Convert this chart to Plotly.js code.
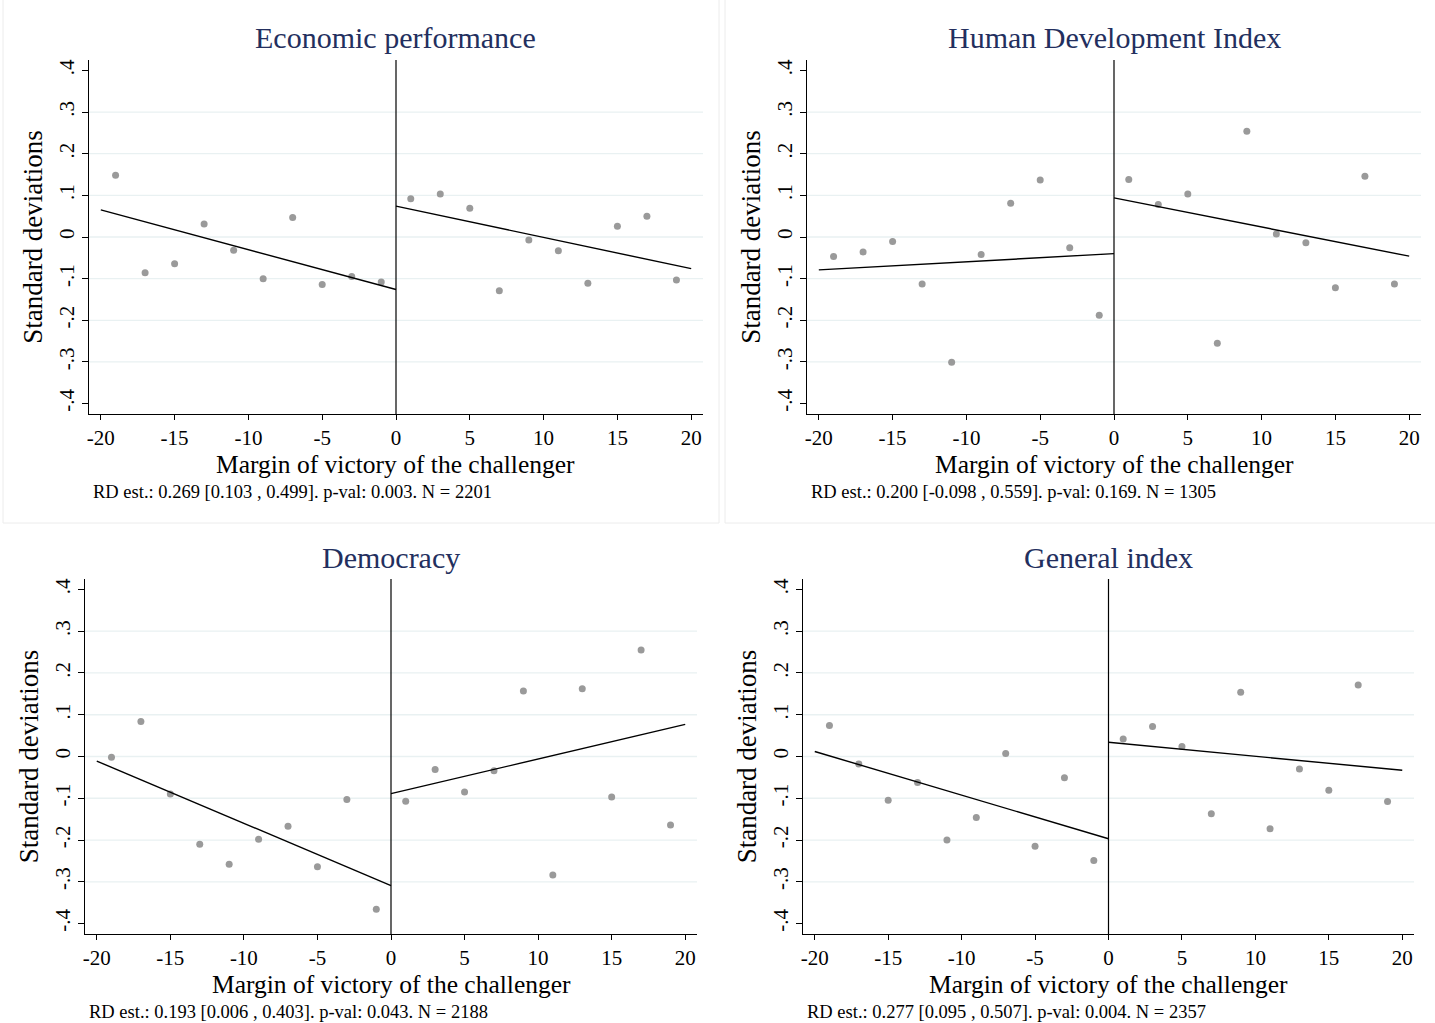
<!DOCTYPE html>
<html>
<head>
<meta charset="utf-8">
<script src="https://cdn.plot.ly/plotly-3.0.1.min.js"></script>
<style>
  html, body { margin: 0; padding: 0; background: #ffffff; }
  #chart { width: 1435px; height: 1023px; }
</style>
</head>
<body>
<div id="chart"></div>
<script>
// Bin centres of the running variable (margin of victory, percentage points)
const binsLeft = [-19, -17, -15, -13, -11, -9, -7, -5, -3, -1];
const binsRight = [1, 3, 5, 7, 9, 11, 13, 15, 17, 19];

// Binned means, in standard deviations
const econLeft = [0.148, -0.086, -0.064, 0.031, -0.032, -0.100, 0.047, -0.114, -0.095, -0.108];
const econRight = [0.092, 0.103, 0.069, -0.129, -0.007, -0.033, -0.111, 0.026, 0.050, -0.103];

const hdiLeft = [-0.047, -0.036, -0.011, -0.113, -0.301, -0.042, 0.081, 0.137, -0.026, -0.188];
const hdiRight = [0.138, 0.078, 0.103, -0.255, 0.254, 0.007, -0.014, -0.122, 0.146, -0.113];

const demoLeft = [-0.002, 0.084, -0.090, -0.210, -0.258, -0.198, -0.167, -0.264, -0.103, -0.366];
const demoRight = [-0.107, -0.031, -0.085, -0.034, 0.157, -0.284, 0.162, -0.097, 0.255, -0.164];

const genLeft = [0.074, -0.018, -0.105, -0.062, -0.200, -0.146, 0.007, -0.215, -0.051, -0.249];
const genRight = [0.042, 0.072, 0.024, -0.137, 0.154, -0.173, -0.030, -0.081, 0.171, -0.108];

// Linear fits on each side of the cutoff: values at the segment ends
const fitXLeft = [-20, 0];
const fitXRight = [0, 20];
const econFitLeft = [0.065, -0.126];
const econFitRight = [0.074, -0.076];
const hdiFitLeft = [-0.079, -0.040];
const hdiFitRight = [0.094, -0.046];
const demoFitLeft = [-0.011, -0.309];
const demoFitRight = [-0.089, 0.077];
const genFitLeft = [0.012, -0.197];
const genFitRight = [0.034, -0.033];

// Panel titles and estimate notes
const panelTitles = ["Economic performance", "Human Development Index", "Democracy", "General index"];
const panelNotes = [
  "RD est.: 0.269 [0.103 , 0.499]. p-val: 0.003. N = 2201",
  "RD est.: 0.200 [-0.098 , 0.559]. p-val: 0.169. N = 1305",
  "RD est.: 0.193 [0.006 , 0.403]. p-val: 0.043. N = 2188",
  "RD est.: 0.277 [0.095 , 0.507]. p-val: 0.004. N = 2357"
];

// Axis ticks
const xTickVals = [-20, -15, -10, -5, 0, 5, 10, 15, 20];
const xTickText = ["-20", "-15", "-10", "-5", "0", "5", "10", "15", "20"];
const yTickVals = [-0.4, -0.3, -0.2, -0.1, 0, 0.1, 0.2, 0.3, 0.4];
const yTickText = ["-.4", "-.3", "-.2", "-.1", "0", ".1", ".2", ".3", ".4"];
const gridVals = [-0.3, -0.2, -0.1, 0, 0.1, 0.2, 0.3];

const xLabel = "Margin of victory of the challenger";
const yLabel = "Standard deviations";

const panels = [
  { left: econLeft, right: econRight, fitL: econFitLeft, fitR: econFitRight },
  { left: hdiLeft, right: hdiRight, fitL: hdiFitLeft, fitR: hdiFitRight },
  { left: demoLeft, right: demoRight, fitL: demoFitLeft, fitR: demoFitRight },
  { left: genLeft, right: genRight, fitL: genFitLeft, fitR: genFitRight }
];

// Page geometry (pixels) for each panel's plotting region
const W = 1435, H = 1023;
const boxes = [
  { x0: 89, x1: 703, y0: 60, y1: 414 },
  { x0: 807, x1: 1421, y0: 60, y1: 414 },
  { x0: 85, x1: 697, y0: 579, y1: 934 },
  { x0: 803, x1: 1414, y0: 579, y1: 934 }
];

const FONT = "Liberation Serif, 'DejaVu Serif', serif";
const markerColor = "#9a9a9a";
const gridColor = "#e9f1f2";
const titleColor = "#232f5e";

const data = [];
const layout = {
  width: W, height: H,
  margin: { l: 0, r: 0, t: 0, b: 0 },
  paper_bgcolor: "#ffffff",
  plot_bgcolor: "#ffffff",
  showlegend: false,
  font: { family: FONT, color: "#000000" },
  shapes: [],
  annotations: []
};

panels.forEach((p, i) => {
  const n = i + 1;
  const xa = n === 1 ? "x" : "x" + n;
  const ya = n === 1 ? "y" : "y" + n;
  const b = boxes[i];

  data.push({
    x: binsLeft.concat(binsRight), y: p.left.concat(p.right),
    xaxis: xa, yaxis: ya, type: "scatter", mode: "markers",
    marker: { color: markerColor, size: 7 }, hoverinfo: "skip"
  });
  data.push({
    x: fitXLeft, y: p.fitL, xaxis: xa, yaxis: ya, type: "scatter", mode: "lines",
    line: { color: "#000000", width: 1.4 }, hoverinfo: "skip"
  });
  data.push({
    x: fitXRight, y: p.fitR, xaxis: xa, yaxis: ya, type: "scatter", mode: "lines",
    line: { color: "#000000", width: 1.4 }, hoverinfo: "skip"
  });

  layout["xaxis" + (n === 1 ? "" : n)] = {
    domain: [b.x0 / W, b.x1 / W],
    anchor: ya,
    range: [-20.8, 20.8],
    tickmode: "array", tickvals: xTickVals, ticktext: xTickText,
    ticks: "outside", ticklen: 5, tickwidth: 1, tickcolor: "#000000",
    showline: true, linecolor: "#000000", linewidth: 1,
    showgrid: false, zeroline: false,
    tickfont: { family: FONT, size: 21, color: "#000000" },
    fixedrange: true
  };
  layout["yaxis" + (n === 1 ? "" : n)] = {
    domain: [1 - b.y1 / H, 1 - b.y0 / H],
    anchor: xa,
    range: [-0.425, 0.425],
    tickmode: "array", tickvals: yTickVals, ticktext: yTickText,
    tickangle: -90,
    ticks: "outside", ticklen: 6, tickwidth: 1, tickcolor: "#000000",
    showline: true, linecolor: "#000000", linewidth: 1,
    showgrid: false, zeroline: false,
    tickfont: { family: FONT, size: 21, color: "#000000" },
    title: { text: yLabel, font: { family: FONT, size: 27, color: "#000000" }, standoff: 4 },
    fixedrange: true
  };

  // light horizontal grid lines
  gridVals.forEach(g => {
    layout.shapes.push({
      type: "line", xref: xa + " domain", yref: ya,
      x0: 0, x1: 1, y0: g, y1: g,
      line: { color: gridColor, width: 1.3 }, layer: "below"
    });
  });
  // cutoff line at zero margin
  layout.shapes.push({
    type: "line", xref: xa, yref: ya + " domain",
    x0: 0, x1: 0, y0: 0, y1: 1,
    line: { color: "#000000", width: 1.2 }
  });

  // panel title
  layout.annotations.push({
    text: panelTitles[i], xref: "paper", yref: "paper",
    x: ((b.x0 + b.x1) / 2) / W, y: 1 - (b.y0 - 22) / H,
    xanchor: "center", yanchor: "middle", showarrow: false,
    font: { family: FONT, size: 30, color: titleColor }
  });
  // x-axis title
  layout.annotations.push({
    text: xLabel, xref: "paper", yref: "paper",
    x: ((b.x0 + b.x1) / 2) / W, y: 1 - (b.y1 + 50) / H,
    xanchor: "center", yanchor: "middle", showarrow: false,
    font: { family: FONT, size: 25.5, color: "#000000" }
  });
  // estimate note
  layout.annotations.push({
    text: panelNotes[i], xref: "paper", yref: "paper",
    x: (b.x0 + 2) / W, y: 1 - (b.y1 + 78) / H,
    xanchor: "left", yanchor: "middle", showarrow: false,
    font: { family: FONT, size: 18.5, color: "#000000" }
  });
});

// faint outlines of the upper panel regions
layout.shapes.push({
  type: "rect", xref: "paper", yref: "paper",
  x0: 3 / W, x1: 719 / W, y0: 1 - 523 / H, y1: 1.01,
  line: { color: "#ececec", width: 1 }, layer: "below"
});
layout.shapes.push({
  type: "rect", xref: "paper", yref: "paper",
  x0: 725 / W, x1: 1.01, y0: 1 - 523 / H, y1: 1.01,
  line: { color: "#ececec", width: 1 }, layer: "below"
});

Plotly.newPlot("chart", data, layout, { displayModeBar: false, staticPlot: true });
</script>
</body>
</html>
